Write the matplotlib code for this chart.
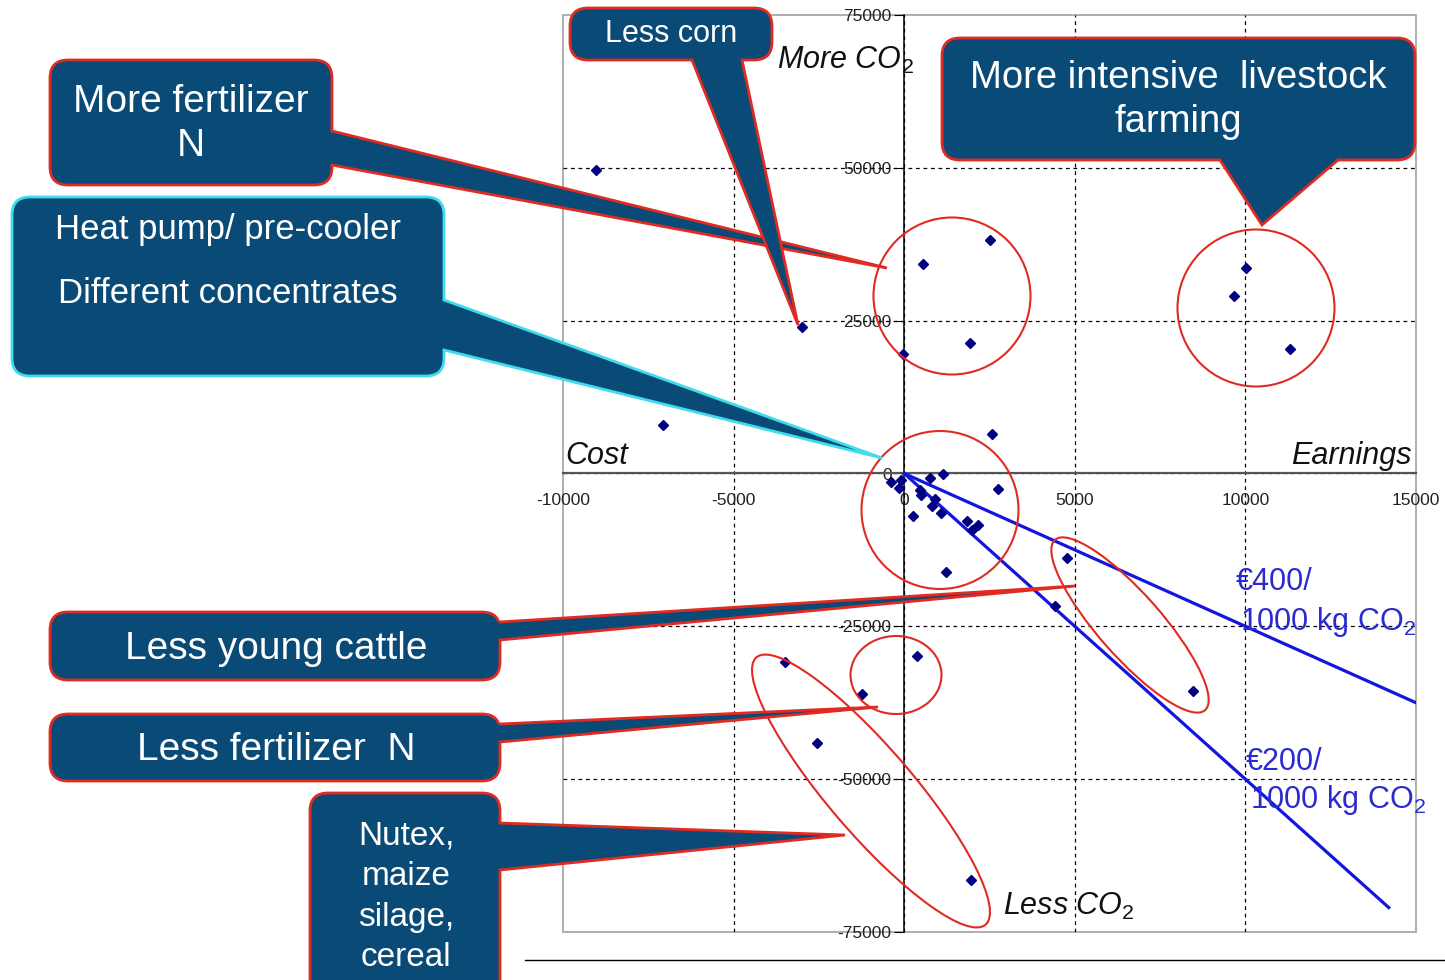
import matplotlib
matplotlib.use('Agg')
import matplotlib.pyplot as plt
from matplotlib.patches import FancyBboxPatch, Polygon, Ellipse, Rectangle

plt.rcParams['font.family'] = ['Liberation Sans', 'DejaVu Sans']
plt.rcParams['mathtext.fontset'] = 'custom'
plt.rcParams['mathtext.rm'] = 'Liberation Sans'
plt.rcParams['mathtext.it'] = 'Liberation Sans:italic'
plt.rcParams['axes.unicode_minus'] = False

# Measures: extra earnings (euro) vs change in CO2 emission (kg)
earnings = [-9030, -7070, -3000, 550, 2510, -40, 1930, 10020, 9670, 11310,
            2580, 2760, -390, -90, -150, 750, 1150, 460, 480, 270,
            900, 820, 1070, 1830, 2160, 2000, 1230, 4770, 4420, 8460,
            380, -1240, -3490, -2560, 1960]
co2 = [49650, 7930, 23970, 34270, 38200, 19550, 21350, 33620, 29040, 20370,
       6460, -2540, -1390, -1060, -2370, -740, -130, -2700, -3570, -6950,
       -4220, -5270, -6510, -7720, -8420, -9240, -16060, -13820, -21670, -35580,
       -29850, -36070, -30840, -44090, -66500]

# CO2 price lines
line400_x = [0, 15000]
line400_y = [0, -37500]
line200_x = [0, 14200]
line200_y = [0, -71000]

x_ticks = [-10000, -5000, 0, 5000, 10000, 15000]
x_labels = ['-10000', '-5000', '0', '5000', '10000', '15000']
y_ticks = [-75000, -50000, -25000, 0, 25000, 50000, 75000]
y_labels = ['-75000', '-50000', '-25000', '0', '25000', '50000', '75000']

FILL = '#0a4a77'
RED = '#e02a22'
CYAN = '#3fdcec'

fig = plt.figure(figsize=(14.45, 9.8), dpi=100)
ax = fig.add_axes([563/1445, 48/980, 853/1445, 917/980])
ax.set_xlim(-10000, 15000)
ax.set_ylim(-75000, 75000)

ax.spines['top'].set_visible(False)
ax.spines['right'].set_visible(False)
ax.spines['left'].set_position(('data', 0))
ax.spines['bottom'].set_position(('data', 0))
ax.spines['left'].set_color('k')
ax.spines['left'].set_linewidth(1.1)
ax.spines['bottom'].set_color('#555555')
ax.spines['bottom'].set_linewidth(1.6)
ax.add_patch(Rectangle((0, 0), 1, 1, transform=ax.transAxes, fill=False,
                       ec='#a8a8a8', lw=1.3, clip_on=False, zorder=0.5))

ax.set_xticks(x_ticks)
ax.set_xticklabels(x_labels)
ax.set_yticks(y_ticks)
ax.set_yticklabels(y_labels)
ax.tick_params(axis='x', direction='out', length=0, pad=14, labelsize=12.5, labelcolor='#222222')
ax.tick_params(axis='y', direction='out', length=7, pad=2, labelsize=12.5, labelcolor='#222222')
ax.grid(True, color='k', ls=(0, (3, 3)), lw=0.9)
for g in [ax.xaxis.get_gridlines()[0], ax.xaxis.get_gridlines()[-1],
          ax.yaxis.get_gridlines()[0], ax.yaxis.get_gridlines()[-1]]:
    g.set_visible(False)
ax.set_axisbelow(True)

ax.plot(line400_x, line400_y, color='#1515e0', lw=2.3, zorder=3)
ax.plot(line200_x, line200_y, color='#1515e0', lw=2.3, zorder=3)
ax.plot(earnings, co2, 'D', color='#000080', ms=5.5, ls='none', zorder=4)

# overlay in pixel coordinates for callouts and notes
ov = fig.add_axes([0, 0, 1, 1])
ov.set_xlim(0, 1445)
ov.set_ylim(980, 0)
ov.axis('off')

# groups
ov.add_patch(Ellipse((952, 296), 157, 157, fill=False, ec=RED, lw=1.5))
ov.add_patch(Ellipse((1256, 308), 157, 157, fill=False, ec=RED, lw=1.5))
ov.add_patch(Ellipse((940, 510), 157, 158, fill=False, ec=RED, lw=1.5))
ov.add_patch(Ellipse((896, 675), 91, 78, fill=False, ec=RED, lw=1.5))
ov.add_patch(Ellipse((871, 791), 352, 85, angle=49.4, fill=False, ec=RED, lw=1.5))
ov.add_patch(Ellipse((1130, 625), 227, 63, angle=48.6, fill=False, ec=RED, lw=1.5))


def callout(box, b1, b2, tip, inward, edge=RED):
    x0, y0, x1, y1 = box
    ov.add_patch(FancyBboxPatch((x0, y0), x1 - x0, y1 - y0,
                                boxstyle='round,pad=0,rounding_size=18',
                                fc=FILL, ec=edge, lw=2, zorder=5))
    dx, dy = inward
    pts = [(b1[0] + dx, b1[1] + dy), b1, tip, b2, (b2[0] + dx, b2[1] + dy)]
    ov.add_patch(Polygon(pts, closed=True, fc=FILL, ec='none', zorder=6))
    ov.plot([b1[0], tip[0], b2[0]], [b1[1], tip[1], b2[1]], color=edge, lw=2,
            zorder=6, solid_joinstyle='miter')


callout((50, 60, 332, 185), (332, 131), (332, 165), (887, 268), (-5, 0))
callout((570, 8, 772, 60), (692, 60), (742, 60), (798, 325), (0, -5))
callout((12, 197, 444, 376), (444, 300), (444, 350), (882, 458), (-5, 0), edge=CYAN)
callout((942, 38, 1415, 160), (1220, 160), (1338, 160), (1262, 225), (0, -5))
callout((50, 612, 500, 680), (500, 622), (500, 640), (1075, 586), (-5, 0))
callout((50, 714, 500, 781), (500, 724), (500, 742), (878, 707), (-5, 0))
callout((310, 793, 500, 1000), (500, 823), (500, 870), (845, 835), (-5, 0))

tk = dict(color='white', ha='center', va='center', zorder=7)
ov.text(191, 124, 'More fertilizer\nN', fontsize=28, linespacing=1.3, **tk)
ov.text(671, 34, 'Less corn', fontsize=22, **tk)
ov.text(228, 229, 'Heat pump/ pre-cooler', fontsize=25, **tk)
ov.text(228, 293, 'Different concentrates', fontsize=25, **tk)
ov.text(1178, 100, 'More intensive  livestock\nfarming', fontsize=27.5, linespacing=1.3, **tk)
ov.text(276, 649, 'Less young cattle', fontsize=28, **tk)
ov.text(276, 750, 'Less fertilizer  N', fontsize=28, **tk)
ov.text(406, 897, 'Nutex,\nmaize\nsilage,\ncereal', fontsize=24, linespacing=1.4, **tk)

ln = dict(fontsize=22, style='italic', va='center', color='#111111')
ov.text(777, 60, 'More CO$_2$', ha='left', **ln)
ov.text(1412, 456, 'Earnings', ha='right', **ln)
ov.text(565, 456, 'Cost', ha='left', **ln)
ov.text(1003, 906, 'Less CO$_2$', ha='left', **ln)

bl = dict(fontsize=22, color='#2a2ad0', va='center', ha='left')
ov.text(1236, 582, '€400/', **bl)
ov.text(1240, 622, '1000 kg CO$_2$', **bl)
ov.text(1246, 762, '€200/', **bl)
ov.text(1250, 800, '1000 kg CO$_2$', **bl)

ov.plot([525, 1445], [960, 960], color='k', lw=1)

fig.savefig('out.png', dpi=100)
